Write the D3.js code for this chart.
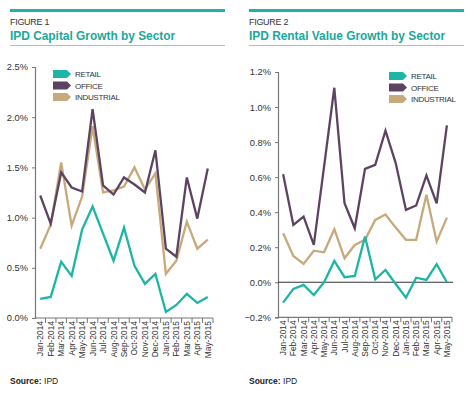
<!DOCTYPE html>
<html>
<head>
<meta charset="utf-8">
<script src="https://cdn.jsdelivr.net/npm/d3@7"></script>
<style>
    body { margin: 0; background: #fff; }
    svg { display: block; font-family: "Liberation Sans", Arial, sans-serif; }
</style>
</head>
<body>
<svg id="chart" width="473" height="397"></svg>
<script>
// months shared by both figures
const months = ['Jan-2014', 'Feb-2014', 'Mar-2014', 'Apr-2014', 'May-2014', 'Jun-2014', 'Jul-2014', 'Aug-2014',
    'Sep-2014', 'Oct-2014', 'Nov-2014', 'Dec-2014', 'Jan-2015', 'Feb-2015', 'Mar-2015', 'Apr-2015', 'May-2015'];

// figure 1, capital growth (%)
const capRetail = [0.19, 0.21, 0.56, 0.42, 0.88, 1.11, 0.84, 0.57, 0.90, 0.52, 0.34, 0.44, 0.06, 0.13, 0.24, 0.15, 0.21];
const capOffice = [1.22, 0.94, 1.45, 1.30, 1.26, 2.08, 1.32, 1.23, 1.40, 1.33, 1.25, 1.67, 0.69, 0.61, 1.40, 0.99, 1.49];
const capIndustrial = [0.69, 0.93, 1.55, 0.92, 1.21, 1.91, 1.25, 1.27, 1.31, 1.50, 1.28, 1.44, 0.44, 0.57, 0.96, 0.69, 0.78];
const capTicks = [0, 0.5, 1.0, 1.5, 2.0, 2.5];

// figure 2, rental value growth (%)
const rentRetail = [-0.116, -0.038, -0.015, -0.073, 0.0, 0.122, 0.029, 0.036, 0.261, 0.017, 0.070, -0.010, -0.088, 0.026, 0.013, 0.103, 0.0];
const rentOffice = [0.617, 0.327, 0.375, 0.213, 0.66, 1.11, 0.451, 0.308, 0.647, 0.67, 0.865, 0.68, 0.413, 0.438, 0.61, 0.45, 0.895];
const rentIndustrial = [0.28, 0.15, 0.105, 0.18, 0.171, 0.303, 0.137, 0.213, 0.242, 0.356, 0.387, 0.312, 0.242, 0.242, 0.499, 0.232, 0.369];
const rentTicks = [-0.2, 0, 0.2, 0.4, 0.6, 0.8, 1.0, 1.2];

const seriesNames = ['RETAIL', 'OFFICE', 'INDUSTRIAL'];
const colors = ['#1db5a6', '#5c4460', '#c7a97c'];

const svg = d3.select('#chart');

function drawPanel (opt) {

    const g = svg.append('g');
    const left = opt.x0;

    // header
    g.append('rect')
        .attr('x', left).attr('y', 9)
        .attr('width', 215).attr('height', 3)
        .attr('fill', '#1fb3a6');

    g.append('text')
        .attr('x', left).attr('y', 25)
        .attr('font-size', 9)
        .attr('fill', '#333')
        .attr('letter-spacing', -0.3)
        .text(opt.figure);

    g.append('text')
        .attr('x', left).attr('y', 40)
        .attr('font-size', 11.9)
        .attr('font-weight', 'bold')
        .attr('fill', '#1aa89c')
        .text(opt.title);

    g.append('line')
        .attr('x1', left).attr('x2', left + 215)
        .attr('y1', 45.5).attr('y2', 45.5)
        .attr('stroke', '#aaa')
        .attr('stroke-width', 0.8);

    const x = d3.scaleBand()
        .domain(months)
        .range([opt.plotLeft, opt.plotRight]);

    const y = d3.scaleLinear()
        .domain(opt.domain)
        .range([opt.plotBottom, opt.plotTop]);

    // y axis
    const yAxis = g.append('g')
        .attr('transform', `translate(${opt.plotLeft},0)`)
        .call(d3.axisLeft(y).tickValues(opt.ticks).tickSize(3).tickPadding(4)
            .tickFormat(d => d3.format('.1f')(d) + '%'));
    yAxis.select('.domain').attr('stroke', '#777').attr('stroke-width', 1.2);
    yAxis.selectAll('.tick line').attr('stroke', '#777');
    yAxis.selectAll('.tick text')
        .attr('font-size', 9.3)
        .attr('font-family', '"Liberation Sans", Arial, sans-serif')
        .attr('fill', '#333');

    // x axis, ticks on the band edges
    const xAxis = g.append('g')
        .attr('transform', `translate(0,${opt.plotBottom})`);
    xAxis.append('line')
        .attr('x1', opt.plotLeft).attr('x2', opt.plotRight)
        .attr('stroke', '#777').attr('stroke-width', 1.2);
    xAxis.selectAll('line.edge')
        .data(months)
        .enter().append('line')
        .attr('class', 'edge')
        .attr('x1', d => x(d) + x.bandwidth())
        .attr('x2', d => x(d) + x.bandwidth())
        .attr('y1', 0).attr('y2', 5)
        .attr('stroke', '#777');
    xAxis.selectAll('text')
        .data(months)
        .enter().append('text')
        .attr('transform', d => `translate(${x(d) + x.bandwidth() / 2 + 3},3) rotate(-90)`)
        .attr('text-anchor', 'end')
        .attr('font-size', 8.4)
        .attr('fill', '#333')
        .text(d => d);

    // zero line
    if (opt.domain[0] < 0) {
        g.append('line')
            .attr('x1', opt.plotLeft).attr('x2', opt.plotRight + 1)
            .attr('y1', y(0)).attr('y2', y(0))
            .attr('stroke', '#333')
            .attr('stroke-width', 1.2);
    }

    const line = d3.line()
        .x((d, i) => x(months[i]) + x.bandwidth() / 2)
        .y(d => y(d));

    opt.order.forEach(k => {
        g.append('path')
            .attr('d', line(opt.series[k]))
            .attr('fill', 'none')
            .attr('stroke', colors[k])
            .attr('stroke-width', 2.3)
            .attr('stroke-linejoin', 'miter');
    });

    // legend
    const legend = g.append('g')
        .attr('transform', `translate(${opt.legendX},${opt.legendY})`);
    seriesNames.forEach((name, i) => {
        const row = legend.append('g').attr('transform', `translate(0,${i * 11.5})`);
        row.append('path')
            .attr('d', 'M0,-4 L14,-4 L18,0 L14,4 L0,4 Z')
            .attr('fill', colors[i]);
        row.append('text')
            .attr('x', 22).attr('y', 3)
            .attr('font-size', 8)
            .attr('fill', '#333')
            .attr('letter-spacing', -0.3)
            .text(name);
    });

    // source
    const src = g.append('text')
        .attr('x', left).attr('y', 384)
        .attr('font-size', 8.5)
        .attr('fill', '#222');
    src.append('tspan').attr('font-weight', 'bold').text('Source: ');
    src.append('tspan').text('IPD');
}

drawPanel({
    x0: 10,
    figure: 'FIGURE 1',
    title: 'IPD Capital Growth by Sector',
    domain: [0, 2.5],
    ticks: capTicks,
    plotLeft: 35, plotRight: 213, plotTop: 67, plotBottom: 318,
    series: [capRetail, capOffice, capIndustrial],
    order: [2, 1, 0],
    legendX: 53, legendY: 74
});

drawPanel({
    x0: 249,
    figure: 'FIGURE 2',
    title: 'IPD Rental Value Growth by Sector',
    domain: [-0.2, 1.2],
    ticks: rentTicks,
    plotLeft: 278, plotRight: 452, plotTop: 72, plotBottom: 317.3,
    series: [rentRetail, rentOffice, rentIndustrial],
    order: [1, 2, 0],
    legendX: 389, legendY: 76
});
</script>
</body>
</html>
